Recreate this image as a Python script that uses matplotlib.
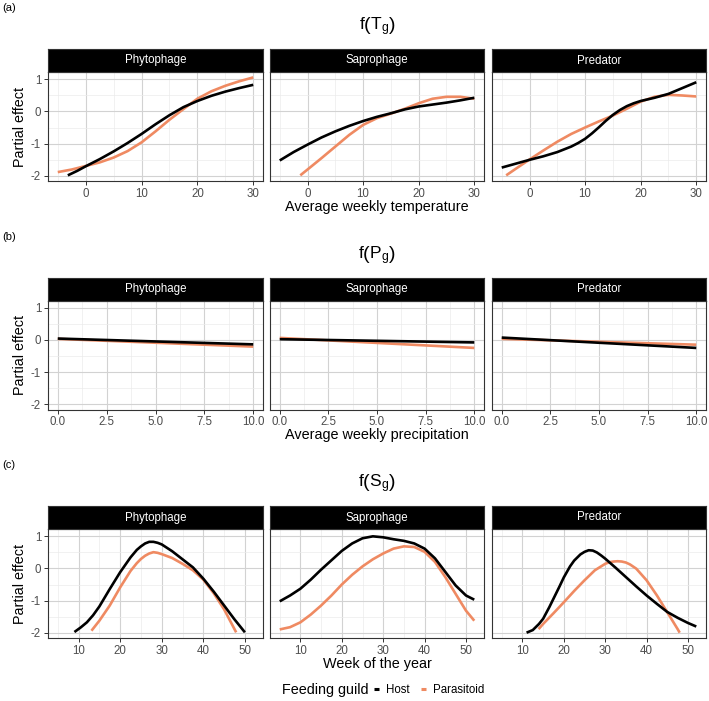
import numpy as np
import matplotlib.pyplot as plt
from matplotlib.lines import Line2D
from matplotlib.ticker import MultipleLocator

plt.rcParams["font.family"] = ["Liberation Sans", "DejaVu Sans"]
plt.rcParams["mathtext.fontset"] = "custom"
plt.rcParams["mathtext.rm"] = "Liberation Sans"
plt.rcParams["mathtext.it"] = "Liberation Sans:italic"

guilds = ["Phytophage", "Saprophage", "Predator"]
groups = ["Host", "Parasitoid"]
group_colors = ["#000000", "#EF8A62"]

# (a) average weekly temperature
temp_phyto_host_x = [-3.2, -1.5, 0, 2.5, 5, 7.5, 10, 12.5, 15, 17.5, 20, 22.5, 25, 27.5, 30]
temp_phyto_host_y = [-1.98, -1.84, -1.70, -1.48, -1.24, -0.98, -0.70, -0.40, -0.12, 0.13, 0.32, 0.48, 0.61, 0.72, 0.82]
temp_phyto_para_x = [-5, -2.5, 0, 2.5, 5, 7.5, 10, 12.5, 15, 17.5, 20, 22.5, 25, 27.5, 30]
temp_phyto_para_y = [-1.88, -1.80, -1.69, -1.58, -1.43, -1.23, -0.96, -0.62, -0.26, 0.07, 0.39, 0.62, 0.79, 0.93, 1.05]

temp_sapro_host_x = [-5, -2.5, 0, 2.5, 5, 7.5, 10, 12.5, 15, 17.5, 20, 22.5, 25, 27.5, 30]
temp_sapro_host_y = [-1.52, -1.26, -1.03, -0.81, -0.62, -0.45, -0.30, -0.17, -0.06, 0.06, 0.15, 0.21, 0.27, 0.34, 0.42]
temp_sapro_para_x = [-1.3, 0, 2.5, 5, 7.5, 10, 12.5, 15, 17.5, 20, 22.5, 25, 27.5, 30]
temp_sapro_para_y = [-1.98, -1.80, -1.45, -1.09, -0.73, -0.42, -0.21, -0.07, 0.08, 0.25, 0.39, 0.45, 0.45, 0.39]

temp_pred_host_x = [-5, -2.5, 0, 2.5, 5, 7.5, 8.75, 10, 11.25, 12.5, 13.75, 15, 16.25, 17.5, 18.75, 20, 22.5, 25, 27.5, 30]
temp_pred_host_y = [-1.74, -1.62, -1.50, -1.39, -1.26, -1.09, -0.98, -0.85, -0.68, -0.49, -0.29, -0.11, 0.04, 0.16, 0.25, 0.32, 0.42, 0.54, 0.72, 0.90]
temp_pred_para_x = [-4.2, -2.5, 0, 2.5, 5, 7.5, 10, 12.5, 15, 17.5, 20, 22.5, 25, 27.5, 30]
temp_pred_para_y = [-1.98, -1.78, -1.49, -1.21, -0.94, -0.70, -0.50, -0.31, -0.13, 0.08, 0.30, 0.45, 0.51, 0.49, 0.46]

# (b) average weekly precipitation
prec_phyto_host_x = [0, 10]
prec_phyto_host_y = [0.04, -0.14]
prec_phyto_para_x = [0, 10]
prec_phyto_para_y = [0.03, -0.21]
prec_sapro_host_x = [0, 10]
prec_sapro_host_y = [0.02, -0.08]
prec_sapro_para_x = [0, 10]
prec_sapro_para_y = [0.06, -0.25]
prec_pred_host_x = [0, 10]
prec_pred_host_y = [0.07, -0.25]
prec_pred_para_x = [0, 10]
prec_pred_para_y = [0.03, -0.15]

# (c) week of the year
week_phyto_host_x = [9, 10.5, 12, 13.5, 15, 17.5, 20, 22.5, 24, 25, 26, 27, 28, 29, 30, 32.5, 35, 37.5, 40, 42.5, 45, 47.5, 50]
week_phyto_host_y = [-1.97, -1.83, -1.67, -1.45, -1.18, -0.64, -0.12, 0.34, 0.57, 0.68, 0.77, 0.82, 0.82, 0.79, 0.74, 0.53, 0.28, 0.03, -0.32, -0.72, -1.15, -1.58, -1.98]
week_phyto_para_x = [13.1, 15, 17.5, 20, 22.5, 24, 25, 26, 27, 28, 29, 30, 32.5, 35, 37.5, 40, 42.5, 45, 47.9]
week_phyto_para_y = [-1.93, -1.62, -1.15, -0.59, -0.08, 0.16, 0.29, 0.39, 0.46, 0.50, 0.48, 0.44, 0.32, 0.14, -0.06, -0.35, -0.77, -1.27, -1.98]

week_sapro_host_x = [5, 7.5, 10, 12.5, 15, 17.5, 20, 22.5, 25, 27.5, 30, 32.5, 35, 37.5, 40, 42.5, 45, 47.5, 50, 52]
week_sapro_host_y = [-1.02, -0.84, -0.63, -0.35, -0.04, 0.25, 0.54, 0.77, 0.93, 0.99, 0.96, 0.90, 0.85, 0.77, 0.61, 0.31, -0.11, -0.53, -0.84, -0.97]
week_sapro_para_x = [5, 7.5, 10, 12.5, 15, 17.5, 20, 22.5, 25, 27.5, 30, 32.5, 35, 37.5, 40, 42.5, 45, 47.5, 50, 52]
week_sapro_para_y = [-1.89, -1.82, -1.67, -1.43, -1.15, -0.84, -0.50, -0.20, 0.06, 0.28, 0.46, 0.61, 0.68, 0.66, 0.51, 0.20, -0.27, -0.79, -1.31, -1.62]

week_pred_host_x = [11, 12.5, 14, 15, 16.5, 17.5, 19, 20, 21.5, 22.5, 24, 25, 26, 27, 28, 29, 30, 32.5, 35, 37.5, 40, 42.5, 45, 47.5, 50, 52]
week_pred_host_y = [-1.99, -1.91, -1.72, -1.56, -1.20, -0.94, -0.55, -0.28, 0.06, 0.24, 0.43, 0.51, 0.56, 0.55, 0.49, 0.40, 0.30, 0.02, -0.27, -0.56, -0.84, -1.10, -1.35, -1.53, -1.69, -1.80]
week_pred_para_x = [13.9, 15, 17.5, 20, 22.5, 25, 27.5, 30, 31, 32, 33, 34, 35, 36, 37.5, 40, 42.5, 45, 47.5, 48]
week_pred_para_y = [-1.88, -1.72, -1.39, -1.05, -0.70, -0.37, -0.06, 0.14, 0.19, 0.21, 0.22, 0.21, 0.18, 0.12, -0.01, -0.37, -0.84, -1.36, -1.88, -1.99]

rows = [
    {"tag": "(a)", "title": r"$\mathrm{f}\left(\mathrm{T}_{\mathrm{g}}\right)$",
     "xlabel": "Average weekly temperature", "xlim": (-6.75, 31.75), "major": 10, "minor": 5,
     "series": [(temp_phyto_host_x, temp_phyto_host_y, temp_phyto_para_x, temp_phyto_para_y),
                (temp_sapro_host_x, temp_sapro_host_y, temp_sapro_para_x, temp_sapro_para_y),
                (temp_pred_host_x, temp_pred_host_y, temp_pred_para_x, temp_pred_para_y)]},
    {"tag": "(b)", "title": r"$\mathrm{f}\left(\mathrm{P}_{\mathrm{g}}\right)$",
     "xlabel": "Average weekly precipitation", "xlim": (-0.5, 10.5), "major": 2.5, "minor": 1.25,
     "series": [(prec_phyto_host_x, prec_phyto_host_y, prec_phyto_para_x, prec_phyto_para_y),
                (prec_sapro_host_x, prec_sapro_host_y, prec_sapro_para_x, prec_sapro_para_y),
                (prec_pred_host_x, prec_pred_host_y, prec_pred_para_x, prec_pred_para_y)]},
    {"tag": "(c)", "title": r"$\mathrm{f}\left(\mathrm{S}_{\mathrm{g}}\right)$",
     "xlabel": "Week of the year", "xlim": (2.65, 54.35), "major": 10, "minor": 5,
     "series": [(week_phyto_host_x, week_phyto_host_y, week_phyto_para_x, week_phyto_para_y),
                (week_sapro_host_x, week_sapro_host_y, week_sapro_para_x, week_sapro_para_y),
                (week_pred_host_x, week_pred_host_y, week_pred_para_x, week_pred_para_y)]},
]

W, H = 709, 701
fig = plt.figure(figsize=(W / 100, H / 100), dpi=100)


def px_axes(x0, y0, x1, y1):
    return fig.add_axes([x0 / W, 1 - y1 / H, (x1 - x0) / W, (y1 - y0) / H])


panel_x = [(48, 263), (270, 484), (492, 706)]
row_off = [0, 228.5, 457]
ylim = (-2.155, 1.217)
tick_fs = 8.3
title_fs = 10.4

for r, row in enumerate(rows):
    off = row_off[r]
    top, bottom = 72 + off, 181 + off
    fig.text(2 / W, 1 - (8 + off) / H, row["tag"], ha="left", va="center", fontsize=8)
    fig.text(377 / W, 1 - (27 + off) / H, row["title"], ha="center", va="center", fontsize=12.5)
    fig.text(377 / W, 1 - (207 + off) / H, row["xlabel"], ha="center", va="center", fontsize=title_fs)
    fig.text(20 / W, 1 - ((top + bottom) / 2) / H, "Partial effect", ha="center", va="center",
             rotation=90, fontsize=title_fs)

    for c, guild in enumerate(guilds):
        x0, x1 = panel_x[c]
        ax = px_axes(x0, top, x1, bottom)
        hx, hy, px_, py = row["series"][c]
        ax.plot(px_, py, color=group_colors[1], lw=1.9, solid_capstyle="butt",
                solid_joinstyle="round", zorder=3)
        ax.plot(hx, hy, color=group_colors[0], lw=1.9, solid_capstyle="butt",
                solid_joinstyle="round", zorder=4)
        ax.set_xlim(row["xlim"])
        ax.set_ylim(ylim)
        ax.xaxis.set_major_locator(MultipleLocator(row["major"]))
        ax.xaxis.set_minor_locator(MultipleLocator(row["minor"]))
        ax.yaxis.set_major_locator(MultipleLocator(1))
        ax.yaxis.set_minor_locator(MultipleLocator(0.5))
        ax.grid(which="major", color="#D2D2D2", lw=0.8)
        ax.grid(which="minor", color="#EBEBEB", lw=0.5)
        ax.set_axisbelow(True)
        for s in ax.spines.values():
            s.set_color("#333333")
            s.set_linewidth(0.8)
        ax.tick_params(which="minor", length=0)
        ax.tick_params(which="major", length=3, width=0.7, color="#333333",
                       labelsize=tick_fs, labelcolor="#4D4D4D", pad=2)
        if c > 0:
            ax.tick_params(axis="y", which="both", left=False, labelleft=False)
        else:
            ax.set_yticks([-2, -1, 0, 1])
            ax.set_yticklabels(["-2", "-1", "0", "1"])

        strip = px_axes(x0, top - 23, x1, top)
        strip.set_facecolor("black")
        strip.set_xticks([])
        strip.set_yticks([])
        for s in strip.spines.values():
            s.set_color("#333333")
            s.set_linewidth(0.8)
        strip.text(0.5, 0.5, guild, color="white", ha="center", va="center",
                   fontsize=tick_fs, transform=strip.transAxes)

# legend
fig.text(368 / W, 1 - 690 / H, "Feeding guild", ha="right", va="center", fontsize=title_fs)
handles = [Line2D([0], [0], color=col, lw=2.2, solid_capstyle="butt") for col in group_colors]
fig.legend(handles, groups, loc="center left", bbox_to_anchor=(374 / W, 1 - 690 / H),
           ncol=2, frameon=False, handlelength=0.45, handletextpad=0.6, columnspacing=1.0,
           fontsize=tick_fs, borderaxespad=0, borderpad=0)

fig.savefig("out.png", dpi=100)
